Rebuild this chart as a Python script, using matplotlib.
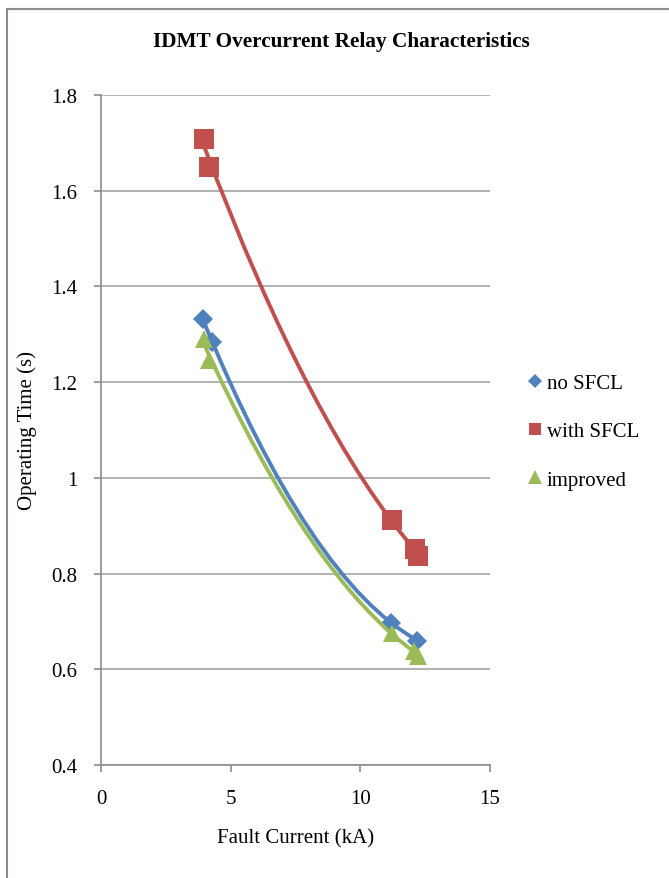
import numpy as np
import matplotlib
matplotlib.use("Agg")
import matplotlib.pyplot as plt
from matplotlib.path import Path
from matplotlib.patches import PathPatch, Rectangle
from matplotlib.lines import Line2D
from matplotlib.ticker import FuncFormatter

# fault current (kA) vs relay operating time (s)
no_sfcl_current = [3.93, 4.28, 11.2, 12.2]
no_sfcl_time = [1.332, 1.284, 0.697, 0.660]

with_sfcl_current = [3.97, 4.17, 11.22, 12.11, 12.22]
with_sfcl_time = [1.708, 1.650, 0.912, 0.851, 0.837]

improved_current = [3.97, 4.15, 11.21, 12.07, 12.22]
improved_time = [1.291, 1.247, 0.676, 0.639, 0.627]

series_labels = ["no SFCL", "with SFCL", "improved"]
series_colors = ["#4F81BD", "#C0504D", "#9BBB59"]
series_markers = ["D", "s", "^"]

x_ticks = [0, 5, 10, 15]
y_ticks = [0.4, 0.6, 0.8, 1.0, 1.2, 1.4, 1.6, 1.8]

GRAY = "#8c8c8c"


def trend_path(x, y):
    # 2nd order polynomial trendline (like excel), drawn as a single quadratic bezier
    c = np.polyfit(x, y, 2)
    x0, x1 = min(x), max(x)
    y0, y1 = np.polyval(c, x0), np.polyval(c, x1)
    slope0 = np.polyval(np.polyder(c), x0)
    xm = (x0 + x1) / 2
    ym = y0 + slope0 * (x1 - x0) / 2
    return Path([(x0, y0), (xm, ym), (x1, y1)], [Path.MOVETO, Path.CURVE3, Path.CURVE3])


plt.rcParams['font.family'] = ['Liberation Serif', 'DejaVu Serif']

fig = plt.figure(figsize=(6.69, 8.79), dpi=100)
ax = fig.add_axes([101 / 669, 1 - 766 / 879, 389 / 669, 670 / 879])

data = [
    (no_sfcl_current, no_sfcl_time),
    (with_sfcl_current, with_sfcl_time),
    (improved_current, improved_time),
]
marker_sizes = [10.5, 14, 13]

for (xs, ys), col, mk, ms in zip(data, series_colors, series_markers, marker_sizes):
    ax.plot(xs, ys, linestyle="none", marker=mk, ms=ms, color=col, mew=0, zorder=3)

# trendlines on top of markers, blue last
for i in [1, 2, 0]:
    xs, ys = data[i]
    ax.add_patch(PathPatch(trend_path(xs, ys), fill=False, ec=series_colors[i],
                           lw=2.8, capstyle="round", zorder=4))

ax.set_xlim(0, 15)
ax.set_ylim(0.4, 1.8)
ax.set_xticks(x_ticks)
ax.set_yticks(y_ticks)
ax.yaxis.set_major_formatter(FuncFormatter(lambda v, p: "%g" % v))

ax.grid(axis="y", color="#a6a6a6", lw=1.2)
ax.set_axisbelow(True)
for s in ["top", "right"]:
    ax.spines[s].set_visible(False)
for s in ["left", "bottom"]:
    ax.spines[s].set_color(GRAY)
    ax.spines[s].set_linewidth(1.2)
ax.tick_params(direction="out", length=5, width=1.2, color=GRAY, labelsize=15, pad=12)

ax.set_xlabel("Fault Current (kA)", fontsize=15, labelpad=15)
ax.set_ylabel("Operating Time (s)", fontsize=15, labelpad=10)

fig.text(341 / 669, 1 - 42 / 879, "IDMT Overcurrent Relay Characteristics",
         ha="center", va="center", fontsize=15.3, fontweight="bold")

# legend shows markers only
handles = [Line2D([], [], linestyle="none", marker=mk, color=col, mew=0, ms=ms)
           for col, mk, ms in zip(series_colors, series_markers, [7.5, 9, 9.5])]
fig.legend(handles, series_labels, loc="center left",
           bbox_to_anchor=(527 / 669, 1 - 432.5 / 879), frameon=False, fontsize=15,
           handlelength=0.8, handletextpad=0.15, labelspacing=1.38,
           borderpad=0, borderaxespad=0)

# chart area border (cropped at the right and bottom)
fig.patches.append(Rectangle((7 / 669, -0.05), 1, 1 - 10 / 879 + 0.05,
                             transform=fig.transFigure, fill=False, ec=GRAY, lw=1.5))

fig.savefig("out.png", dpi=100)
